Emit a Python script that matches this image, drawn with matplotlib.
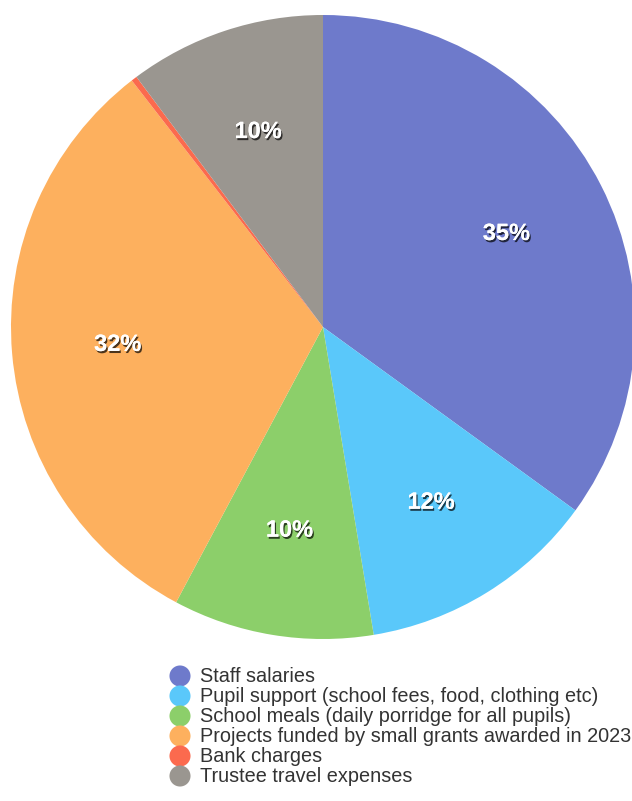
import matplotlib
matplotlib.use('Agg')
import matplotlib.pyplot as plt
import matplotlib.patheffects as pe

categories = ['Staff salaries',
              'Pupil support (school fees, food, clothing etc)',
              'School meals (daily porridge for all pupils)',
              'Projects funded by small grants awarded in 2023',
              'Bank charges',
              'Trustee travel expenses']
shares = [35.0, 12.4, 10.4, 31.7, 0.3, 10.2]
colors = ['#6E7ACB', '#5AC8FA', '#8CCF6A', '#FDB05E', '#FB6A4E', '#9A9690']

W, H = 632, 801
fig = plt.figure(figsize=(W / 100, H / 100), dpi=100)

# pie centre / radius in pixels
cx, cy, R = 323, 327, 312
ax = fig.add_axes([(cx - R) / W, (H - cy - R) / H, 2 * R / W, 2 * R / H])


def pct(p):
    return '%d%%' % round(p) if p >= 1 else ''


wedges, texts, autotexts = ax.pie(shares, colors=colors, startangle=90,
                                  counterclock=False, autopct=pct,
                                  pctdistance=0.66, radius=1,
                                  wedgeprops=dict(linewidth=0))
for t in autotexts:
    t.set_color('white')
    t.set_fontsize(17)
    t.set_fontweight('bold')
    t.set_family(['Liberation Sans', 'DejaVu Sans'])
    t.set_path_effects([pe.withSimplePatchShadow(offset=(1, -1.5), shadow_rgbFace='black', alpha=0.7),
                        pe.Normal()])
ax.set_xlim(-1, 1)
ax.set_ylim(-1, 1)
ax.set_aspect('equal')
ax.axis('off')

# legend drawn in pixel coordinates
lg = fig.add_axes([0, 0, 1, 1])
lg.set_xlim(0, W)
lg.set_ylim(H, 0)
lg.axis('off')
y0, dy = 676, 20
for i, (lab, col) in enumerate(zip(categories, colors)):
    lg.scatter([180], [y0 + i * dy], s=230, color=col, edgecolor='none')
    lg.text(200, y0 + i * dy, lab, fontsize=14.3, color='#333333',
            va='center', ha='left', family=['Liberation Sans', 'DejaVu Sans'])

fig.savefig('out.png', dpi=100)
